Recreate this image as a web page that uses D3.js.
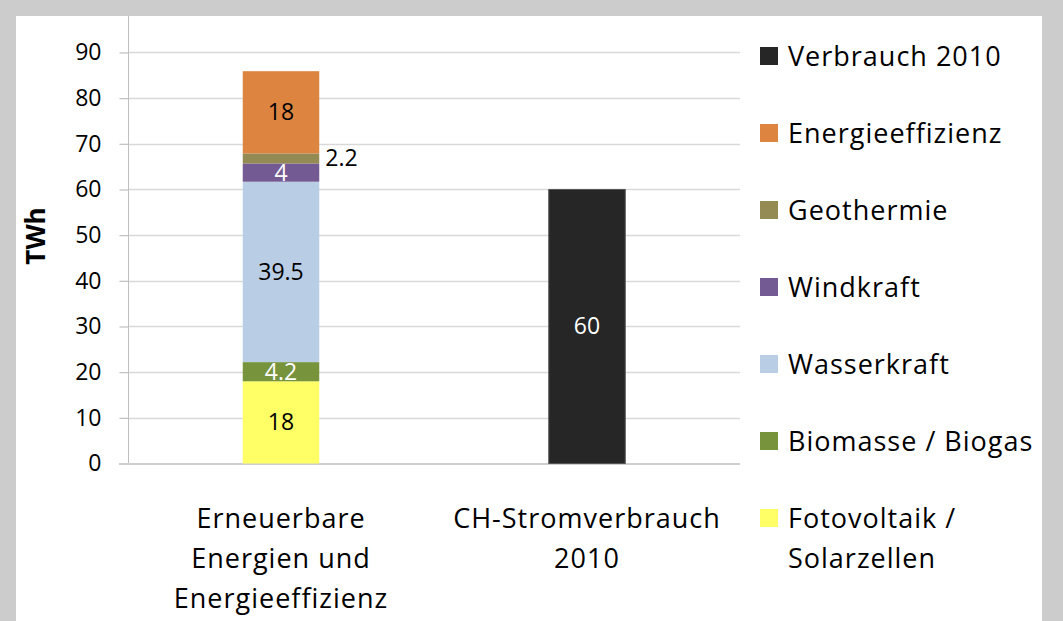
<!DOCTYPE html>
<html>
<head>
<meta charset="utf-8">
<script src="https://cdn.jsdelivr.net/npm/d3@7"></script>
<style>
  body { margin: 0; background: #fff; }
  svg { display: block; font-family: 'Open Sans', sans-serif; }
</style>
</head>
<body>
<svg id="chart" width="1063" height="621"></svg>
<script>
// data
const categories = ['Erneuerbare Energien und Energieeffizienz', 'CH-Stromverbrauch 2010'];
const categoryLines = [['Erneuerbare', 'Energien und', 'Energieeffizienz'], ['CH-Stromverbrauch', '2010']];
const seriesNames = ['Fotovoltaik / Solarzellen', 'Biomasse / Biogas', 'Wasserkraft', 'Windkraft', 'Geothermie', 'Energieeffizienz', 'Verbrauch 2010'];
const fotovoltaik = [18, 0];
const biomasse = [4.2, 0];
const wasserkraft = [39.5, 0];
const windkraft = [4, 0];
const geothermie = [2.2, 0];
const effizienz = [18, 0];
const verbrauch = [0, 60];
const seriesColors = ['#ffff66', '#77933c', '#b9cde5', '#735a92', '#948a54', '#dc8440', '#262626'];
const labelColors = ['#000', '#fff', '#000', '#fff', '#000', '#000', '#fff'];
const legendLines = [['Verbrauch 2010'], ['Energieeffizienz'], ['Geothermie'], ['Windkraft'], ['Wasserkraft'], ['Biomasse / Biogas'], ['Fotovoltaik /', 'Solarzellen']];
const yTicks = [0, 10, 20, 30, 40, 50, 60, 70, 80, 90];

const allSeries = [fotovoltaik, biomasse, wasserkraft, windkraft, geothermie, effizienz, verbrauch];
const table = categories.map((c, i) => {
    const row = { category: c };
    seriesNames.forEach((s, j) => row[s] = allSeries[j][i]);
    return row;
});

const svg = d3.select('#chart');

// slide frame
svg.append('rect').attr('width', 1063).attr('height', 621).attr('fill', '#cccccc');
svg.append('rect').attr('x', 16).attr('y', 16).attr('width', 1026).attr('height', 610).attr('fill', '#fff');

const x = d3.scaleBand().domain(categories).range([128, 740]);
const y = d3.scaleLinear().domain([0, 100]).range([463.5, 6.8]);
const barW = x.bandwidth() * 0.25;

// gridlines
svg.append('g').selectAll('line')
    .data(yTicks.slice(1))
    .enter()
    .append('line')
    .attr('x1', 128).attr('x2', 740)
    .attr('y1', d => Math.round(y(d)) + 0.5).attr('y2', d => Math.round(y(d)) + 0.5)
    .attr('stroke', '#d9d9d9').attr('stroke-width', 1.5);

const yAxis = svg.append('g')
    .attr('transform', 'translate(128.5,0)')
    .call(d3.axisLeft(y).tickValues(yTicks).tickSize(9).tickPadding(18).tickSizeOuter(0));
yAxis.select('.domain').attr('stroke', '#bfbfbf').attr('d', `M0,${y(0)}V16`);
yAxis.selectAll('.tick line').attr('stroke', '#bfbfbf').attr('stroke-width', 1.2);
yAxis.selectAll('.tick text').attr('fill', '#000').style('font-size', '23px').style('font-family', 'Open Sans');

// baseline
svg.append('line')
    .attr('x1', 119).attr('x2', 740)
    .attr('y1', y(0) + 0.5).attr('y2', y(0) + 0.5)
    .attr('stroke', '#cfcfcf').attr('stroke-width', 2);

const stack = d3.stack().keys(seriesNames)(table);

const layers = svg.append('g').selectAll('g')
    .data(stack)
    .enter()
    .append('g')
    .attr('fill', (d, i) => seriesColors[i]);

layers.selectAll('rect')
    .data(d => d.filter(p => p.data[d.key] > 0))
    .enter()
    .append('rect')
    .attr('x', p => x(p.data.category) + (x.bandwidth() - barW) / 2)
    .attr('y', p => y(p[1]))
    .attr('width', barW)
    .attr('height', p => y(p[0]) - y(p[1]))
    .attr('stroke', function () { return d3.select(this.parentNode).attr('fill') === '#262626' ? '#555' : 'none'; });

// value labels
stack.forEach((layer, i) => {
    layer.filter(p => p.data[layer.key] > 0).forEach(p => {
        const outside = layer.key === 'Geothermie';
        const cx = x(p.data.category) + x.bandwidth() / 2;
        svg.append('text')
            .attr('x', outside ? cx + barW / 2 + 6 : cx)
            .attr('y', (y(p[0]) + y(p[1])) / 2 + 8)
            .attr('text-anchor', outside ? 'start' : 'middle')
            .attr('fill', labelColors[i])
            .style('font-size', '23px')
            .text(p.data[layer.key]);
    });
});

// category labels
categories.forEach((c, i) => {
    const t = svg.append('text')
        .attr('x', x(c) + x.bandwidth() / 2)
        .attr('y', 528)
        .attr('text-anchor', 'middle')
        .attr('fill', '#000')
        .style('font-size', '27px')
        .style('letter-spacing', '1px');
    categoryLines[i].forEach((line, k) => {
        t.append('tspan').attr('x', x(c) + x.bandwidth() / 2).attr('dy', k ? 40 : 0).text(line);
    });
});

// y title
svg.append('text')
    .attr('transform', 'translate(45,236) rotate(-90)')
    .attr('text-anchor', 'middle')
    .style('font-size', '26px')
    .style('font-weight', 'bold')
    .text('TWh');

// legend, top series first
const legend = svg.append('g').selectAll('g')
    .data(seriesNames.slice().reverse())
    .enter()
    .append('g')
    .attr('transform', (d, i) => `translate(760,${56 + i * 77})`);

legend.append('rect')
    .attr('x', 0).attr('y', -9)
    .attr('width', 18).attr('height', 18)
    .attr('fill', d => seriesColors[seriesNames.indexOf(d)]);

legend.append('text')
    .attr('x', 28).attr('y', 9.5)
    .attr('fill', '#000')
    .style('font-size', '27px')
    .style('letter-spacing', '1px')
    .each(function (d, i) {
        legendLines[i].forEach((line, k) => {
            d3.select(this).append('tspan').attr('x', 28).attr('dy', k ? 40 : 0).text(line);
        });
    });
</script>
</body>
</html>
